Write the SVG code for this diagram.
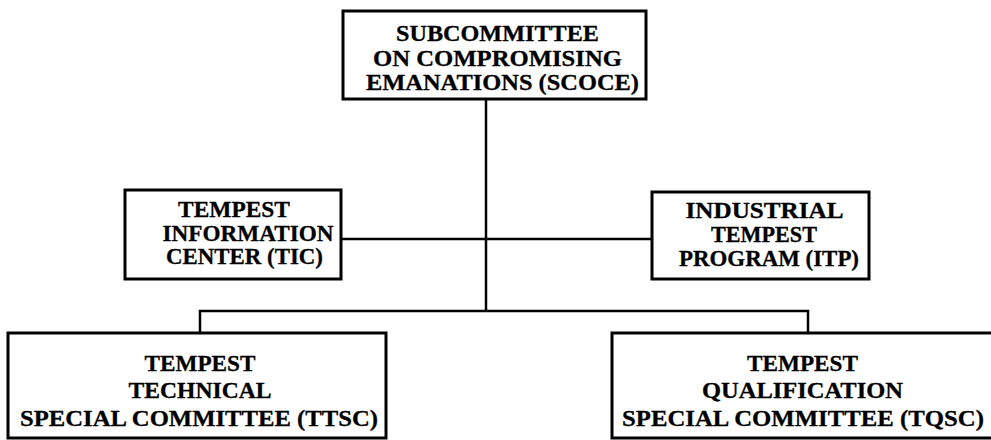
<svg xmlns="http://www.w3.org/2000/svg" width="991" height="440" viewBox="0 0 991 440">
<style>
.box{fill:#fff;stroke:#000;stroke-width:3}
.lbl{font-family:"Liberation Serif","Times New Roman",serif;font-weight:bold;font-size:23px;fill:#000;stroke:#000;stroke-width:0.3;text-anchor:middle}
.con{fill:none;stroke:#000;stroke-width:2.5}
</style>
<rect width="991" height="440" fill="#fff"/>
<g id="connectors">
<path class="con" d="M486 99 V311"/>
<path class="con" d="M341 239 H652"/>
<path class="con" d="M200 333 V311 H808 V333"/>
</g>
<g id="scoce">
<rect class="box" x="343" y="11" width="303" height="88"/>
<text class="lbl" x="497.5" y="41" textLength="203" lengthAdjust="spacingAndGlyphs">SUBCOMMITTEE</text>
<text class="lbl" x="497.5" y="65.5" textLength="249" lengthAdjust="spacingAndGlyphs">ON COMPROMISING</text>
<text class="lbl" x="502.5" y="90" textLength="273" lengthAdjust="spacingAndGlyphs">EMANATIONS (SCOCE)</text>
</g>
<g id="tic">
<rect class="box" x="125" y="190" width="216" height="89"/>
<text class="lbl" x="234" y="217" textLength="112" lengthAdjust="spacingAndGlyphs">TEMPEST</text>
<text class="lbl" x="248" y="240.5" textLength="171" lengthAdjust="spacingAndGlyphs">INFORMATION</text>
<text class="lbl" x="244.5" y="264" textLength="157" lengthAdjust="spacingAndGlyphs">CENTER (TIC)</text>
</g>
<g id="itp">
<rect class="box" x="652" y="192" width="217" height="87"/>
<text class="lbl" x="764.5" y="218" textLength="158" lengthAdjust="spacingAndGlyphs">INDUSTRIAL</text>
<text class="lbl" x="764" y="242" textLength="106" lengthAdjust="spacingAndGlyphs">TEMPEST</text>
<text class="lbl" x="769" y="266" textLength="180" lengthAdjust="spacingAndGlyphs">PROGRAM (ITP)</text>
</g>
<g id="ttsc">
<rect class="box" x="8" y="333" width="378" height="105"/>
<text class="lbl" x="200" y="371" textLength="111" lengthAdjust="spacingAndGlyphs">TEMPEST</text>
<text class="lbl" x="200" y="398" textLength="143" lengthAdjust="spacingAndGlyphs">TECHNICAL</text>
<text class="lbl" x="199" y="426" textLength="358" lengthAdjust="spacingAndGlyphs">SPECIAL COMMITTEE (TTSC)</text>
</g>
<g id="tqsc">
<rect class="box" x="612" y="333" width="382" height="105"/>
<text class="lbl" x="802.5" y="371" textLength="111" lengthAdjust="spacingAndGlyphs">TEMPEST</text>
<text class="lbl" x="802.5" y="398" textLength="201" lengthAdjust="spacingAndGlyphs">QUALIFICATION</text>
<text class="lbl" x="803" y="426" textLength="362" lengthAdjust="spacingAndGlyphs">SPECIAL COMMITTEE (TQSC)</text>
</g>
</svg>
